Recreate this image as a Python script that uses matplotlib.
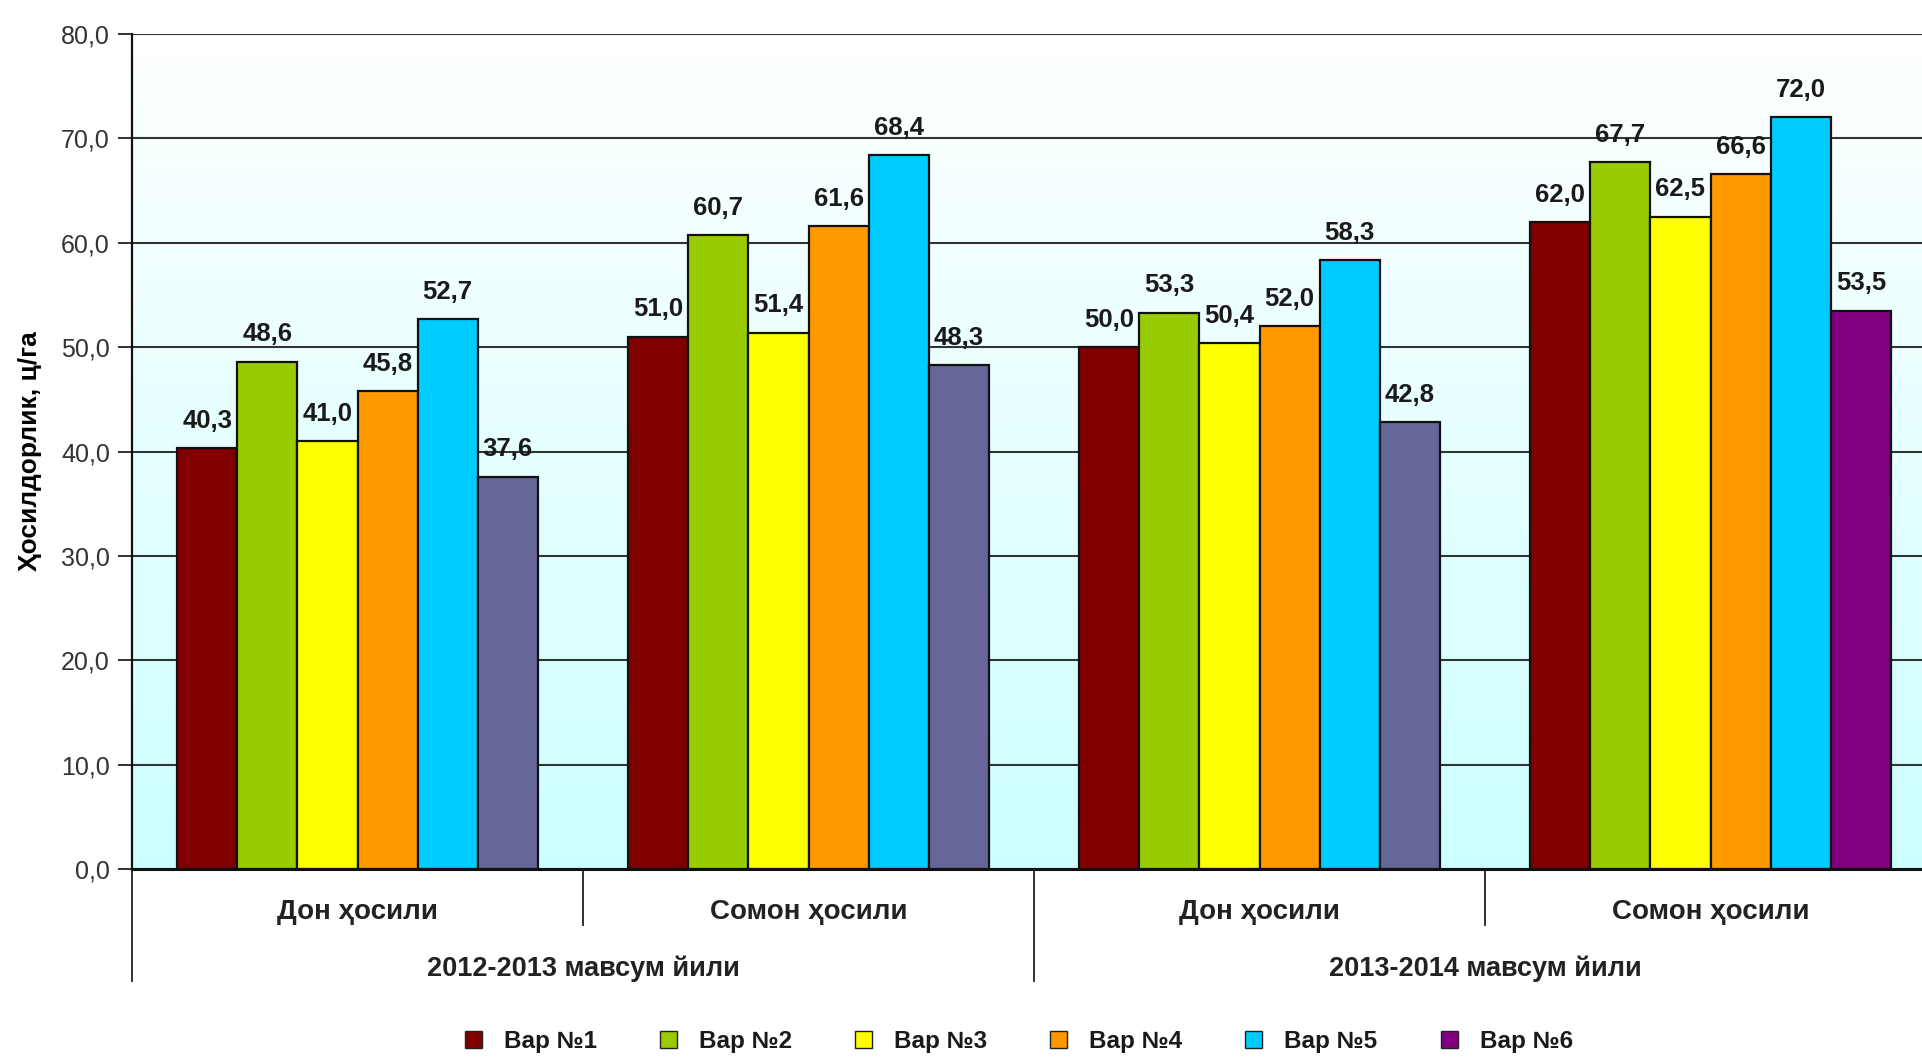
import numpy as np
import matplotlib
matplotlib.use("Agg")
import matplotlib.pyplot as plt
import matplotlib.transforms as mtransforms
from matplotlib.patches import Patch
from matplotlib.colors import LinearSegmentedColormap

# ---------------- data ----------------
categories = ['Дон ҳосили', 'Сомон ҳосили', 'Дон ҳосили', 'Сомон ҳосили']
years = ['2012-2013 мавсум йили', '2013-2014 мавсум йили']
series_names = ['Вар №1', 'Вар №2', 'Вар №3', 'Вар №4', 'Вар №5', 'Вар №6']
var1 = [40.3, 51.0, 50.0, 62.0]
var2 = [48.6, 60.7, 53.3, 67.7]
var3 = [41.0, 51.4, 50.4, 62.5]
var4 = [45.8, 61.6, 52.0, 66.6]
var5 = [52.7, 68.4, 58.3, 72.0]
var6 = [37.6, 48.3, 42.8, 53.5]
y_ticks = [0, 10, 20, 30, 40, 50, 60, 70, 80]
y_label = 'Ҳосилдорлик, ц/га'

series = [var1, var2, var3, var4, var5, var6]
colors = ['#800000', '#99CC00', '#FFFF00', '#FF9900', '#00CCFF', '#800080']
# 6th series appears slate in the first three groups
bar_colors6 = ['#666699', '#666699', '#666699', '#800080']

base_font = ['Liberation Sans', 'DejaVu Sans']
plt.rcParams['font.family'] = base_font

fig = plt.figure(figsize=(19.22, 10.58), dpi=100)
fig.patch.set_facecolor('white')
ax = fig.add_axes([0.0687, 0.1786, 0.9386, 0.7893])

# gradient background
grad = np.linspace(0, 1, 256).reshape(-1, 1)
cmap = LinearSegmentedColormap.from_list('bg', ['#CCFFFF', '#FFFFFF'])
ax.imshow(grad, cmap=cmap, aspect='auto', extent=[0, 1, 0, 1],
          transform=ax.transAxes, origin='lower', zorder=0)

n_cat = len(categories)
n_ser = len(series)
w = 0.8 / n_ser
x0 = np.arange(n_cat)

for j, vals in enumerate(series):
    xs = x0 + 0.1 + w * j + w / 2
    cols = bar_colors6 if j == 5 else [colors[j]] * n_cat
    ax.bar(xs, vals, width=w, color=cols, edgecolor='#111111',
           linewidth=1.6, zorder=3)
    for x, v in zip(xs, vals):
        ax.annotate(f'{v:.1f}'.replace('.', ','), (x, v), xytext=(0, 11),
                    textcoords='offset points', ha='center', va='bottom',
                    fontsize=18.5, fontweight='bold',
                    color='#1a1a1a', zorder=5)

ax.set_xlim(0, n_cat)
ax.set_ylim(0, 80)
ax.set_yticks(y_ticks)
ax.set_yticklabels([f'{t:.1f}'.replace('.', ',') for t in y_ticks],
                   fontsize=18, color='#333333')
ax.tick_params(axis='y', direction='out', length=10, width=1.3, pad=6,
               color='#222222')
ax.set_xticks([])
ax.yaxis.grid(True, color='#333333', linewidth=1.5, zorder=1)
ax.set_axisbelow(True)
for s in ['top', 'right']:
    ax.spines[s].set_visible(False)
ax.spines['left'].set_color('#111111')
ax.spines['left'].set_linewidth(1.6)
ax.spines['bottom'].set_color('#111111')
ax.spines['bottom'].set_linewidth(2.2)
ax.spines['left'].set_zorder(4)
ax.spines['bottom'].set_zorder(4)

ax.set_ylabel(y_label, fontsize=19, fontweight='bold')
ax.yaxis.set_label_coords(-0.050, 0.5)

# multi-level category axis
trans = mtransforms.blended_transform_factory(ax.transData, ax.transAxes)
for i, c in enumerate(categories):
    ax.text(i + 0.5, -0.051, c, transform=trans, ha='center', va='center',
            fontsize=20, fontweight='bold', color='#222222')
for k, yname in enumerate(years):
    ax.text(2 * k + 1.0, -0.119, yname, transform=trans, ha='center',
            va='center', fontsize=19.5, fontweight='bold', color='#222222')
for i in range(n_cat + 1):
    depth = -0.134 if i % 2 == 0 else -0.067
    ax.plot([i, i], [0, depth], transform=trans, color='#222222',
            linewidth=1.3, clip_on=False, zorder=4)

# legend
handles = [Patch(facecolor=c, edgecolor='#222222', linewidth=1.0)
           for c in colors]
leg = fig.legend(handles, series_names, loc='center',
                 bbox_to_anchor=(0.53, 0.016), ncol=6, frameon=False,
                 prop={'size': 17.5, 'weight': 'bold'},
                 handlelength=0.7, handleheight=0.7,
                 columnspacing=2.6, handletextpad=0.9)
for t in leg.get_texts():
    t.set_color('#1a1a1a')

fig.savefig('out.png', dpi=100, facecolor='white')
